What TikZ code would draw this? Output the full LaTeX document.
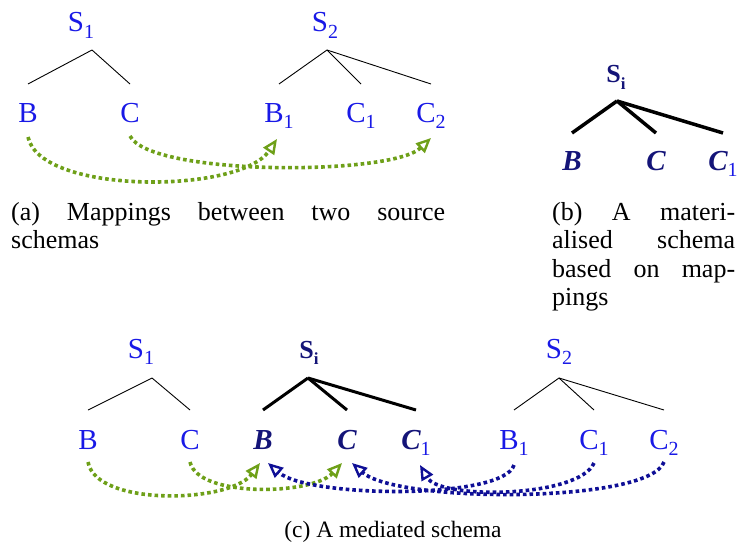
\documentclass[tikz,border=0pt]{standalone}
\usepackage{fontspec}
\setmainfont{Liberation Serif}
\usetikzlibrary{arrows.meta}
\definecolor{srcblue}{RGB}{25,25,230}
\definecolor{medblue}{RGB}{20,20,120}
\definecolor{mapgreen}{RGB}{110,160,25}
\definecolor{mapblue}{RGB}{15,15,150}
\newcommand\sbs[2][20]{\raisebox{-0.24em}{\fontsize{#1}{#1}\selectfont #2}}
\newcommand\msbs[1]{\raisebox{-0.24em}{\fontsize{20}{20}\selectfont\normalfont\color{srcblue}#1}}
\begin{document}
\begin{tikzpicture}[x=1pt,y=-1pt,line cap=butt,line join=miter,
	lbl/.style={anchor=base,inner sep=0pt,text=srcblue,font=\fontsize{29}{29}\selectfont},
	mlbl/.style={lbl,text=medblue,font=\fontsize{29}{29}\selectfont\bfseries\itshape},
	mroot/.style={lbl,text=medblue,font=\fontsize{26}{26}\selectfont\bfseries},
	srcedge/.style={line width=0.9pt},
	mededge/.style={line width=3pt},
	mapa/.style={mapgreen,line width=3.6pt,dash pattern=on 3.6pt off 3pt,
		-{Triangle[open,length=15pt,width=13pt,line width=2.4pt]}},
	mapb/.style={mapa,mapblue},
	caption/.style={inner sep=0pt,anchor=north west,align=left,font=\fontsize{26}{28.5}\selectfont}]
	\useasboundingbox (0,0) rectangle (742,543);
	
	% (a) two source schemas
	\node[lbl] (s1) at (81,32) {S\sbs{1}};
	\coordinate (s1r) at (92,50);
	\node[lbl] (b) at (28,122) {B};
	\node[lbl] (c) at (130,122) {C};
	\node[lbl] (s2) at (325,32) {S\sbs{2}};
	\coordinate (s2r) at (327,50);
	\node[lbl] (b1) at (279,122) {B\sbs{1}};
	\node[lbl] (c1) at (361,122) {C\sbs{1}};
	\node[lbl] (c2) at (431,122) {C\sbs{2}};
	\foreach \n in {b,c}{
		\draw[srcedge] (s1r) -- ([yshift=38pt]\n.base);
	}
	\foreach \n in {b1,c1,c2}{
		\draw[srcedge] (s2r) -- ([yshift=38pt]\n.base);
	}
	\draw[mapa] ([yshift=-15pt]b.base) .. controls +(12,58) and +(-37,55) .. ([xshift=-2pt,yshift=-17pt]b1.base);
	\draw[mapa] ([yshift=-14pt]c.base) .. controls +(20,40) and +(-40,38) .. ([yshift=-16pt]c2.base);
	\node[caption] (capa) at (11,202) {\makebox[434pt][s]{(a) Mappings between two source}\\schemas};
	
	% (b) materialised schema
	\node[mroot] (si) at (616,83) {S\sbs[17]{i}};
	\coordinate (sir) at (617,101);
	\node[mlbl] (mb) at (572,170) {B};
	\node[mlbl] (mc) at (656,170) {C};
	\node[mlbl] (mc1) at (723,170) {C\msbs{1}};
	\foreach \n in {mb,mc,mc1}{
		\draw[mededge,line width=3.5pt] (sir) -- ([yshift=37pt]\n.base);
	}
	\node[caption] (capb) at (552,202) {\makebox[183pt][s]{(b) A materi-}\\
		\makebox[183pt][s]{alised schema}\\\makebox[183pt][s]{based on map-}\\pings};
	
	% (c) mediated schema
	\node[lbl] (s1c) at (141,358) {S\sbs{1}};
	\coordinate (s1cr) at (152,378);
	\node[lbl] (bc) at (88,449) {B};
	\node[lbl] (cc) at (190,449) {C};
	\node[mroot] (sic) at (309,358) {S\sbs[17]{i}};
	\coordinate (sicr) at (308,378);
	\node[mlbl] (bm) at (263,449) {B};
	\node[mlbl] (cm) at (347,449) {C};
	\node[mlbl] (c1m) at (416,449) {C\msbs{1}};
	\node[lbl] (s2c) at (559,358) {S\sbs{2}};
	\coordinate (s2cr) at (559,378);
	\node[lbl] (b1c) at (514,449) {B\sbs{1}};
	\node[lbl] (c1c) at (594,449) {C\sbs{1}};
	\node[lbl] (c2c) at (664,449) {C\sbs{2}};
	\foreach \n in {bc,cc}{
		\draw[srcedge] (s1cr) -- ([yshift=39pt]\n.base);
	}
	\foreach \n in {bm,cm,c1m}{
		\draw[mededge] (sicr) -- ([yshift=39pt]\n.base);
	}
	\foreach \n in {b1c,c1c,c2c}{
		\draw[srcedge] (s2cr) -- ([yshift=39pt]\n.base);
	}
	\draw[mapa] ([yshift=-13pt]bc.base) .. controls +(8,45) and +(-30,40) .. ([xshift=-3pt,yshift=-14pt]bm.base);
	\draw[mapa] ([yshift=-13pt]cc.base) .. controls +(8,36) and +(-30,32) .. ([xshift=-5pt,yshift=-14pt]cm.base);
	\draw[mapb] ([yshift=-16pt]b1c.base) .. controls +(-10,35) and +(40,35) .. ([xshift=5pt,yshift=-14pt]bm.base);
	\draw[mapb] ([yshift=-14pt]c1c.base) .. controls +(-15,35) and +(20,35) .. ([xshift=4pt,yshift=-16pt]c1m.base);
	\draw[mapb] ([yshift=-13pt]c2c.base) .. controls +(-15,42) and +(45,40) .. ([xshift=5pt,yshift=-14pt]cm.base);
	\node[anchor=base,inner sep=0pt,font=\fontsize{23.5}{28}\selectfont] (capc) at (393,537) {(c) A mediated schema};
\end{tikzpicture}
\end{document}
